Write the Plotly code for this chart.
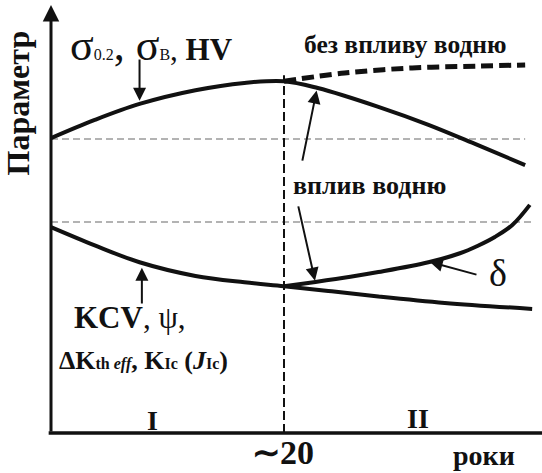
import plotly.graph_objects as go

# ---------------- data (schematic, arbitrary parameter units vs. years) -------------
years_upper = [0, 3.7, 7.6, 12.4, 16.6, 20, 22.9, 28.1, 32.4, 36.6, 40.7]
strength_hv = [68.9, 73.1, 76.9, 80.1, 81.8, 82.2, 80.6, 76.2, 72.0, 67.3, 62.6]

years_nohyd = [20, 25.2, 31.0, 36.6, 40.7]
strength_nohyd = [82.2, 84.1, 85.3, 85.7, 86.0]

years_lower = [0, 3.7, 7.6, 12.4, 16.6, 20, 23.8, 28.1, 33.8, 41.3]
toughness = [48.1, 43.9, 39.9, 36.7, 35.2, 34.3, 33.2, 31.9, 30.4, 29.0]

years_delta = [20, 22.7, 25.7, 28.1, 32.4, 35.1, 36.6, 38.1, 39.6, 41.1]
delta_vals = [34.3, 35.3, 36.5, 37.6, 39.9, 42.0, 43.7, 45.8, 48.6, 53.3]

boundary_year = 20
upper_ref_level = 68.7
lower_ref_level = 49.3
upper_ref_end = 40.7
lower_ref_end = 41.3
boundary_top = 83.6

INK = "#111111"
SERIF = "Liberation Serif, Times New Roman, serif"

fig = go.Figure()

# reference gray dashed levels
fig.add_trace(go.Scatter(x=[0, upper_ref_end], y=[upper_ref_level, upper_ref_level], mode="lines",
                         line=dict(color="#9a9a9a", width=1.5, dash="7px,4px"), hoverinfo="skip"))
fig.add_trace(go.Scatter(x=[0, lower_ref_end], y=[lower_ref_level, lower_ref_level], mode="lines",
                         line=dict(color="#9a9a9a", width=1.5, dash="7px,4px"), hoverinfo="skip"))
# period boundary
fig.add_trace(go.Scatter(x=[boundary_year, boundary_year], y=[0, boundary_top], mode="lines",
                         line=dict(color=INK, width=2, dash="9px,4px"), hoverinfo="skip"))

# curves
fig.add_trace(go.Scatter(x=years_nohyd, y=strength_nohyd, mode="lines",
                         line=dict(color=INK, width=5, dash="12px,6px", shape="spline"), hoverinfo="skip"))
fig.add_trace(go.Scatter(x=years_upper, y=strength_hv, mode="lines",
                         line=dict(color=INK, width=4, shape="spline"), hoverinfo="skip"))
fig.add_trace(go.Scatter(x=years_lower, y=toughness, mode="lines",
                         line=dict(color=INK, width=4, shape="spline"), hoverinfo="skip"))
fig.add_trace(go.Scatter(x=years_delta, y=delta_vals, mode="lines",
                         line=dict(color=INK, width=4, shape="spline"), hoverinfo="skip"))

# x-axis line
fig.add_trace(go.Scatter(x=[-0.2, 43], y=[0, 0], mode="lines",
                         line=dict(color=INK, width=3.5), hoverinfo="skip"))

ann = []


def arrow(x0, y0, x1, y1, width=2, size=1.3):
    ann.append(dict(x=x1, y=y1, ax=x0, ay=y0, xref="x", yref="y", axref="x", ayref="y",
                    showarrow=True, arrowhead=2, arrowsize=size, arrowwidth=width,
                    arrowcolor=INK, text=""))


def label(x, y, text, size, angle=0):
    ann.append(dict(x=x, y=y, xref="x", yref="y", text=text, showarrow=False,
                    textangle=angle, xanchor="center", yanchor="middle",
                    font=dict(family=SERIF, size=size, color=INK)))


def big(t, s):
    return f'<span style="font-size:{s}px">{t}</span>'


arrow(0, 0, 0, 100, width=3, size=1.1)          # y-axis with arrow
arrow(7.6, 87.6, 7.6, 77.6)
arrow(7.8, 29.9, 7.8, 38.6)
arrow(21.55, 63.3, 22.8, 80.0)
arrow(21.2, 53.3, 22.66, 35.6)
arrow(36.65, 36.9, 32.5, 40.0)

label(-2.8, 77.1, "<b>Параметр</b>", 32, angle=-90)
label(8.6, 90.6, big("σ", 44) + "0.2" + big(", σ", 44) + "B" + big(", <b>HV</b>", 31), 16)
label(30.4, 90.7, "<b>без впливу водню</b>", 25.5)
label(27.3, 57.9, "<b>вплив водню</b>", 26)
label(38.4, 37.4, "δ", 38)
label(6.8, 26.9, "<b>KCV</b>, ψ,", 31)
label(7.9, 17.0, "<b>" + big("ΔK", 26) + "th <i>eff</i>" + big(", K", 26) + "Ic"
      + big(" (<i>J</i>", 26) + "Ic" + big(")", 26) + "</b>", 16)
label(8.75, 3.0, "<b>I</b>", 28)
label(31.5, 3.5, "<b>II</b>", 28)
label(19.9, -4.6, "<b>∼20</b>", 34)
label(37.2, -5.3, "<b>роки</b>", 28)

x0px, y0px, sx, sy = 51, 433, 11.65, 4.28
fig.update_layout(
    width=542, height=473,
    margin=dict(l=0, r=0, t=0, b=0),
    paper_bgcolor="white", plot_bgcolor="white",
    showlegend=False,
    xaxis=dict(visible=False, range=[(0 - x0px) / sx, (542 - x0px) / sx], fixedrange=True),
    yaxis=dict(visible=False, range=[(y0px - 473) / sy, (y0px - 0) / sy], fixedrange=True),
    annotations=ann,
)

fig.write_html("out.html", config={"displayModeBar": False},
               post_script="document.body.style.margin='0';document.body.style.padding='0';")
